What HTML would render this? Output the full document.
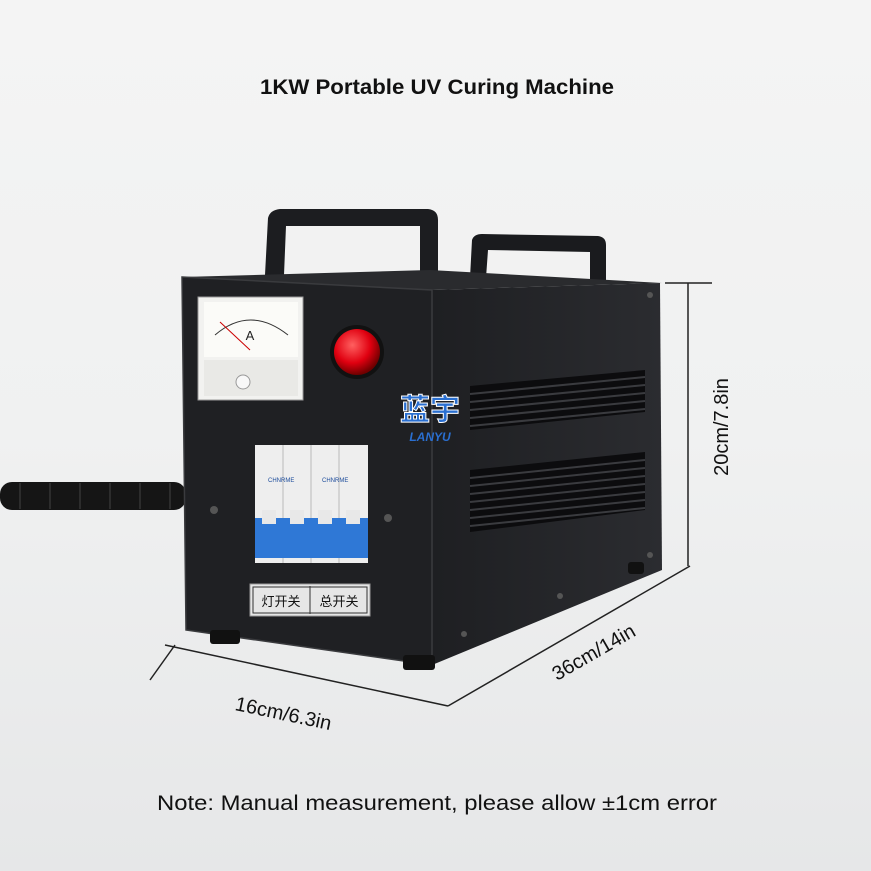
<!DOCTYPE html>
<html><head><meta charset="utf-8"><style>
html,body{margin:0;padding:0;width:871px;height:871px;overflow:hidden}
svg{display:block}
text{font-family:"Liberation Sans","Noto Sans CJK SC",sans-serif}
</style></head><body>
<svg width="871" height="871" viewBox="0 0 871 871" xmlns="http://www.w3.org/2000/svg">
<defs>
<linearGradient id="bg" x1="0" y1="0" x2="0" y2="1">
<stop offset="0" stop-color="#f4f4f4"/><stop offset="0.5" stop-color="#f0f1f1"/><stop offset="1" stop-color="#e6e7e8"/>
</linearGradient>
<radialGradient id="red" cx="40%" cy="35%" r="65%">
<stop offset="0" stop-color="#ff6060"/><stop offset="0.6" stop-color="#e00010"/><stop offset="1" stop-color="#700000"/>
</radialGradient>
<linearGradient id="side" x1="0" x2="1"><stop offset="0" stop-color="#1e1f22"/><stop offset="1" stop-color="#2b2c30"/></linearGradient>
</defs>
<rect width="871" height="871" fill="url(#bg)"/>
<text x="260" y="94" textLength="354" lengthAdjust="spacingAndGlyphs" font-size="21" font-weight="bold" fill="#111">1KW Portable UV Curing Machine</text>
<!-- cable -->
<rect x="0" y="482" width="186" height="28" rx="12" fill="#151515"/>
<g stroke="#2c2c2c" stroke-width="2">
<line x1="20" y1="483" x2="20" y2="509"/><line x1="50" y1="483" x2="50" y2="509"/><line x1="80" y1="483" x2="80" y2="509"/><line x1="110" y1="483" x2="110" y2="509"/><line x1="140" y1="483" x2="140" y2="509"/><line x1="170" y1="483" x2="170" y2="509"/>
</g>
<!-- handles -->
<path d="M470 278 L472 240 Q474 234 482 234 L598 236 Q606 237 606 245 L606 280 L590 280 L590 252 L488 250 L486 278 Z" fill="#1a1b1e"/>
<path d="M265 275 L268 218 Q270 210 280 209 L428 209 Q438 210 438 220 L438 285 L420 285 L420 226 L286 226 L284 275 Z" fill="#1c1d20"/>
<!-- side -->
<polygon points="432,290 660,283 662,570 432,665" fill="url(#side)"/>
<!-- top -->
<polygon points="182,277 430,270 662,283 432,290" fill="#2a2b2e"/>
<!-- front -->
<polygon points="182,277 432,290 432,665 186,630" fill="#1f2023" stroke="#3a3b3e" stroke-width="1.5"/>
<!-- feet -->
<rect x="210" y="630" width="30" height="14" rx="3" fill="#111"/>
<rect x="403" y="655" width="32" height="15" rx="3" fill="#111"/>
<rect x="628" y="562" width="16" height="12" rx="3" fill="#111"/>
<!-- vents -->
<g fill="#0c0c0e">
<polygon points="470,386 645,370 645,412 470,430"/>
<polygon points="470,470 645,452 645,510 470,532"/>
</g>
<g stroke="#3a3b3f" stroke-width="2">
<line x1="470" y1="394" x2="645" y2="377"/><line x1="470" y1="402" x2="645" y2="385"/><line x1="470" y1="410" x2="645" y2="393"/><line x1="470" y1="418" x2="645" y2="401"/><line x1="470" y1="426" x2="645" y2="409"/>
<line x1="470" y1="478" x2="645" y2="460"/><line x1="470" y1="486" x2="645" y2="468"/><line x1="470" y1="494" x2="645" y2="476"/><line x1="470" y1="502" x2="645" y2="484"/><line x1="470" y1="510" x2="645" y2="492"/><line x1="470" y1="518" x2="645" y2="500"/><line x1="470" y1="526" x2="645" y2="508"/>
</g>
<!-- screws -->
<g fill="#555">
<circle cx="214" cy="510" r="4"/><circle cx="388" cy="518" r="4"/><circle cx="464" cy="634" r="3"/><circle cx="650" cy="295" r="3"/><circle cx="650" cy="555" r="3"/><circle cx="560" cy="596" r="3"/>
</g>
<!-- meter -->
<rect x="198" y="297" width="105" height="103" fill="#f2f2f0" stroke="#999"/>
<rect x="204" y="302" width="94" height="55" fill="#fbfbf8"/>
<path d="M215 335 Q250 305 288 335" fill="none" stroke="#333" stroke-width="1"/>
<text x="250" y="340" text-anchor="middle" font-size="13" fill="#222">A</text>
<line x1="250" y1="350" x2="220" y2="322" stroke="#c00" stroke-width="1"/>
<rect x="204" y="360" width="94" height="36" fill="#e9e9e6"/>
<circle cx="243" cy="382" r="7" fill="#f8f8f8" stroke="#999"/>
<!-- red lamp -->
<circle cx="357" cy="352" r="27" fill="#111"/>
<circle cx="357" cy="352" r="23" fill="url(#red)"/>
<!-- logo -->
<text x="430" y="420" text-anchor="middle" font-size="30" font-weight="bold" fill="#2a6fd0" stroke="#fff" stroke-width="1">蓝宇</text>
<text x="430" y="441" text-anchor="middle" font-size="12" font-style="italic" font-weight="bold" fill="#2a6fd0">LANYU</text>
<!-- breakers -->
<rect x="255" y="445" width="113" height="118" fill="#eeeeee"/>
<g stroke="#bbb"><line x1="283" y1="445" x2="283" y2="563"/><line x1="311" y1="445" x2="311" y2="563"/><line x1="339" y1="445" x2="339" y2="563"/></g>
<text x="268" y="482" font-size="6" fill="#1a4a9a">CHNRME</text>
<text x="322" y="482" font-size="6" fill="#1a4a9a">CHNRME</text>
<rect x="255" y="518" width="113" height="40" fill="#2f78d6"/>
<g fill="#e8e8e8"><rect x="262" y="510" width="14" height="14"/><rect x="290" y="510" width="14" height="14"/><rect x="318" y="510" width="14" height="14"/><rect x="346" y="510" width="14" height="14"/></g>
<!-- label plate -->
<rect x="250" y="584" width="120" height="32" fill="#e6e6e6" stroke="#999"/>
<line x1="310" y1="586" x2="310" y2="614" stroke="#333"/>
<rect x="253" y="587" width="114" height="26" fill="none" stroke="#333"/>
<text x="281" y="606" text-anchor="middle" font-size="13" fill="#111">灯开关</text>
<text x="339" y="606" text-anchor="middle" font-size="13" fill="#111">总开关</text>
<!-- dimension lines -->
<g stroke="#222" stroke-width="1.5">
<line x1="665" y1="283" x2="712" y2="283"/>
<line x1="688" y1="283" x2="688" y2="566"/>
<line x1="690" y1="566" x2="448" y2="706"/>
<line x1="165" y1="645" x2="448" y2="706"/>
<line x1="150" y1="680" x2="175" y2="645"/>
</g>
<text transform="translate(728,427) rotate(-90)" text-anchor="middle" font-size="20" fill="#111">20cm/7.8in</text>
<text transform="translate(597,658) rotate(-30)" text-anchor="middle" font-size="20" fill="#111">36cm/14in</text>
<text transform="translate(282,720) rotate(12)" text-anchor="middle" font-size="20" fill="#111">16cm/6.3in</text>
<text x="157" y="810" textLength="560" lengthAdjust="spacingAndGlyphs" font-size="21" fill="#111">Note: Manual measurement, please allow ±1cm error</text>
</svg>
</body></html>
